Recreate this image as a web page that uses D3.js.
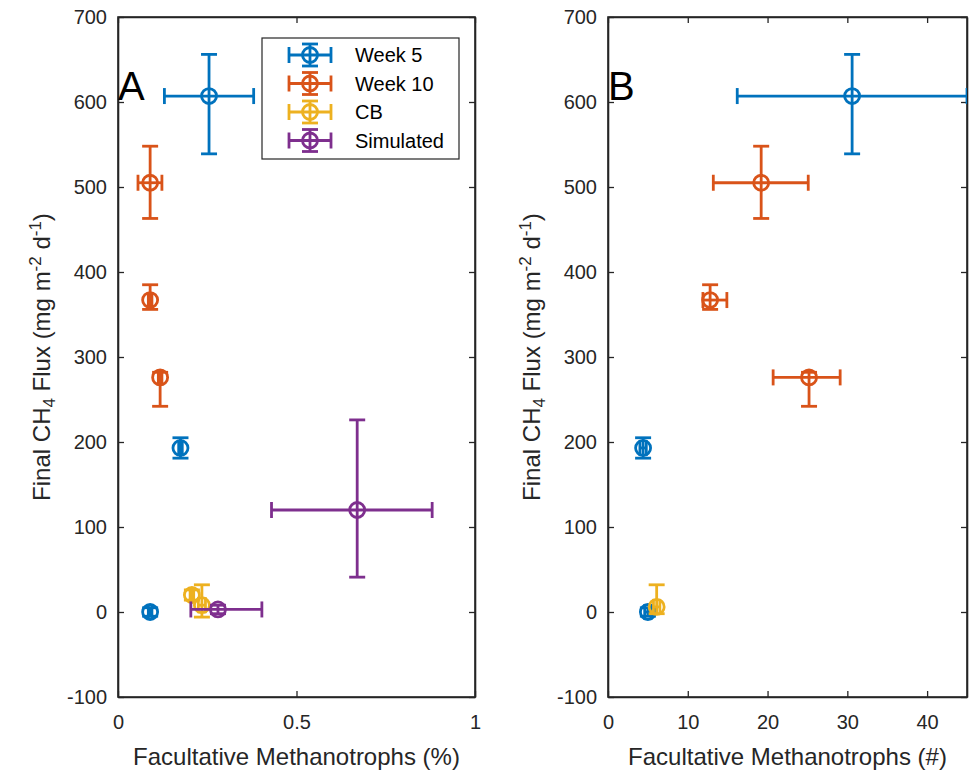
<!DOCTYPE html>
<html><head><meta charset="utf-8">
<script src="https://cdn.jsdelivr.net/npm/d3@7"></script>
<style>body{margin:0;background:#fff}svg{display:block}text{font-family:"Liberation Sans",Arial,sans-serif}</style>
</head><body><svg id="c" width="969" height="774"></svg>
<script>
const seriesNames = ["Week 5","Week 10","CB","Simulated"];
const seriesColors = ["#0072BD","#D95319","#EDB120","#7E2F8E"];
const yTicks = [-100,0,100,200,300,400,500,600,700];
const xTicksA = [0,0.5,1];
const xTickLabelsA = ["0","0.5","1"];
const xTicksB = [0,10,20,30,40];

// Panel A: [x, y, xlo, xhi, ylo, yhi]
const week5A    = [[0.255,607,0.13,0.38,539,656],[0.175,193,0.170,0.180,181,205],[0.09,0,0.085,0.095,-5,5]];
const week10A   = [[0.09,505,0.056,0.123,463,548],[0.09,367,0.085,0.095,356,385],[0.118,276,0.113,0.123,242,282]];
const cbA       = [[0.207,20,0.202,0.212,14,26],[0.235,8,0.225,0.245,-6,32]];
const simulatedA= [[0.67,120,0.43,0.88,41,226],[0.28,3,0.204,0.403,-2,8]];
// Panel B
const week5B    = [[30.6,607,16.2,45,539,656],[4.4,193,4.0,4.8,181,205],[5.0,0,4.6,5.4,-5,5]];
const week10B   = [[19.2,505,13.2,25.1,463,548],[12.8,367,11.9,14.9,356,385],[25.2,276,20.7,29.1,242,282]];
const cbB       = [[6.1,6,5.7,6.5,-2,32]];
const simulatedB= [];

const svg = d3.select("#c");
const axisColor = "#262626";
const lw = 2.8, cap = 8, r = 7.5;

function panel(opts){
  const {left,right,top,bottom,xDomain,xTicks,xLabels,xTitle,letter,series,id} = opts;
  const x = d3.scaleLinear().domain(xDomain).range([left,right]);
  const y = d3.scaleLinear().domain([-100,700]).range([bottom,top]);
  const g = svg.append("g");
  g.append("clipPath").attr("id",id).append("rect")
    .attr("x",left).attr("y",top).attr("width",right-left).attr("height",bottom-top);
  const ax = g.append("g").attr("transform",`translate(0,${bottom})`)
    .call(d3.axisBottom(x).tickValues(xTicks).tickFormat((d,i)=>xLabels[i]).tickSizeInner(-6).tickSizeOuter(0).tickPadding(18));
  const ay = g.append("g").attr("transform",`translate(${left},0)`)
    .call(d3.axisLeft(y).tickValues(yTicks).tickFormat(d=>String(d)).tickSizeInner(-6).tickSizeOuter(0).tickPadding(11));
  const axt = g.append("g").attr("transform",`translate(0,${top})`)
    .call(d3.axisTop(x).tickValues(xTicks).tickFormat("").tickSizeInner(-6).tickSizeOuter(0));
  const ayr = g.append("g").attr("transform",`translate(${right},0)`)
    .call(d3.axisRight(y).tickValues(yTicks).tickFormat("").tickSizeInner(-6).tickSizeOuter(0));
  [ax,ay,axt,ayr].forEach(a=>{
    a.select(".domain").attr("stroke",axisColor).attr("stroke-width",1.6);
    a.selectAll(".tick line").attr("stroke",axisColor).attr("stroke-width",1.3);
    a.selectAll(".tick text").attr("fill",axisColor).style("font-size","20px");
  });
  g.append("rect").attr("x",left).attr("y",top).attr("width",right-left).attr("height",bottom-top)
    .attr("fill","none").attr("stroke",axisColor).attr("stroke-width",1.6);
  g.append("text").attr("x",(left+right)/2).attr("y",765).attr("text-anchor","middle")
    .attr("fill",axisColor).style("font-size","24px").text(xTitle);
  const yt = g.append("text").attr("transform",`translate(${left-68},${(top+bottom)/2}) rotate(-90)`)
    .attr("text-anchor","middle").attr("fill",axisColor).style("font-size","24px");
  yt.append("tspan").text("Final CH");
  yt.append("tspan").attr("baseline-shift","-30%").style("font-size","17px").text("4");
  yt.append("tspan").text(" Flux (mg m");
  yt.append("tspan").attr("baseline-shift","super").style("font-size","17px").text("-2");
  yt.append("tspan").text(" d");
  yt.append("tspan").attr("baseline-shift","super").style("font-size","17px").text("-1");
  yt.append("tspan").text(")");
  g.append("text").attr("x",left).attr("y",100).attr("fill","#000").style("font-size","40px").text(letter);
  const dg = g.append("g").attr("clip-path",`url(#${id})`);
  series.forEach((pts,si)=>{
    const col = seriesColors[si];
    pts.forEach(p=>{
      const [px,py,xlo,xhi,ylo,yhi] = p;
      const s = dg.append("g").attr("stroke",col).attr("stroke-width",lw).attr("fill","none");
      s.append("line").attr("x1",x(xlo)).attr("x2",x(xhi)).attr("y1",y(py)).attr("y2",y(py));
      s.append("line").attr("x1",x(xlo)).attr("x2",x(xlo)).attr("y1",y(py)-cap).attr("y2",y(py)+cap);
      s.append("line").attr("x1",x(xhi)).attr("x2",x(xhi)).attr("y1",y(py)-cap).attr("y2",y(py)+cap);
      s.append("line").attr("x1",x(px)).attr("x2",x(px)).attr("y1",y(ylo)).attr("y2",y(yhi));
      s.append("line").attr("x1",x(px)-cap).attr("x2",x(px)+cap).attr("y1",y(ylo)).attr("y2",y(ylo));
      s.append("line").attr("x1",x(px)-cap).attr("x2",x(px)+cap).attr("y1",y(yhi)).attr("y2",y(yhi));
      s.append("circle").attr("cx",x(px)).attr("cy",y(py)).attr("r",r);
    });
  });
  return g;
}

panel({left:118,right:475,top:17,bottom:697,xDomain:[0,1],xTicks:xTicksA,xLabels:xTickLabelsA,
  xTitle:"Facultative Methanotrophs (%)",letter:"A",series:[week5A,week10A,cbA,simulatedA],id:"clipA"});
panel({left:608,right:967,top:17,bottom:697,xDomain:[0,45],xTicks:xTicksB,xLabels:xTicksB.map(String),
  xTitle:"Facultative Methanotrophs (#)",letter:"B",series:[week5B,week10B,cbB,simulatedB],id:"clipB"});

const lg = svg.append("g");
lg.append("rect").attr("x",262).attr("y",38).attr("width",197).attr("height",121)
  .attr("fill","#fff").attr("stroke",axisColor).attr("stroke-width",1.2);
seriesNames.forEach((n,i)=>{
  const cy = 55 + i*28.5, cx = 310, col = seriesColors[i];
  const s = lg.append("g").attr("stroke",col).attr("stroke-width",lw).attr("fill","none");
  s.append("line").attr("x1",cx-21).attr("x2",cx+21).attr("y1",cy).attr("y2",cy);
  s.append("line").attr("x1",cx-21).attr("x2",cx-21).attr("y1",cy-8).attr("y2",cy+8);
  s.append("line").attr("x1",cx+21).attr("x2",cx+21).attr("y1",cy-8).attr("y2",cy+8);
  s.append("line").attr("x1",cx).attr("x2",cx).attr("y1",cy-11).attr("y2",cy+11);
  s.append("line").attr("x1",cx-8).attr("x2",cx+8).attr("y1",cy-11).attr("y2",cy-11);
  s.append("line").attr("x1",cx-8).attr("x2",cx+8).attr("y1",cy+11).attr("y2",cy+11);
  s.append("circle").attr("cx",cx).attr("cy",cy).attr("r",r);
  lg.append("text").attr("x",355).attr("y",cy+7).attr("fill","#000").style("font-size","20px").text(n);
});
</script></body></html>
